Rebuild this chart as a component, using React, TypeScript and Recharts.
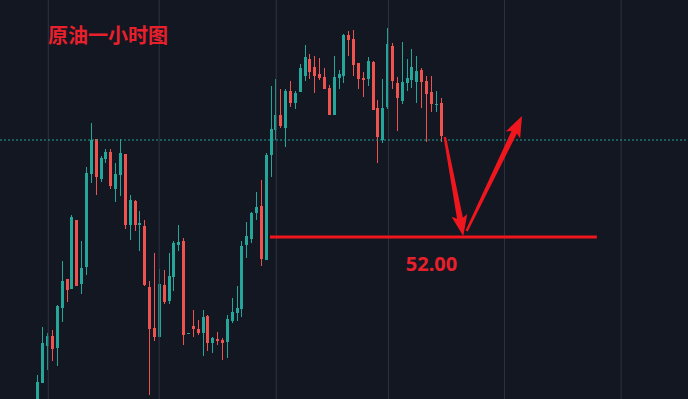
import React from 'react';
import { ComposedChart, Bar, XAxis, YAxis, ReferenceLine, ReferenceDot } from 'recharts';

const UP = '#26a69a';
const DOWN = '#ef5350';
const MARK = '#f0161e';

const opens = [50.30,50.54,50.91,51.01,50.89,51.29,51.58,51.48,52.17,51.53,51.70,52.63,52.98,52.58,52.78,52.85,52.48,52.62,52.83,52.12,52.36,52.12,52.11,51.50,51.09,51.00,51.52,51.36,51.60,51.92,51.96,51.03,51.11,51.08,51.04,51.21,50.94,50.98,50.97,50.95,51.16,51.24,51.28,51.92,51.98,52.24,52.31,51.77,52.82,53.07,53.22,53.09,53.46,53.34,53.45,53.61,53.78,53.70,53.63,53.60,53.49,53.22,53.59,53.61,54.02,53.98,53.74,53.59,53.58,53.75,53.29,52.97,53.30,53.91,53.54,53.36,53.54,53.57,53.55,53.67,53.56,53.45,53.32,53.34];
const highs = [50.62,51.10,51.04,51.07,51.32,51.76,51.58,52.22,52.17,51.96,52.70,53.14,52.98,52.81,52.88,52.88,52.74,52.98,52.83,52.42,52.37,52.26,52.17,51.56,51.84,51.68,51.67,51.84,51.96,52.12,51.99,51.04,51.27,51.17,51.27,51.22,51.00,51.05,50.99,51.22,51.39,51.51,51.96,52.15,52.25,52.45,52.57,52.84,53.51,53.58,53.48,53.48,53.56,53.46,53.73,53.92,53.83,53.81,53.79,53.69,53.52,53.81,53.67,54.03,54.06,54.07,53.74,53.65,53.80,53.76,53.37,53.58,54.09,53.94,53.60,53.95,53.78,53.88,53.81,53.69,53.61,53.61,53.46,53.39];
const lows = [50.25,50.54,50.67,50.76,50.71,51.15,51.35,51.48,51.51,51.43,51.62,52.54,52.42,52.55,52.74,52.48,52.35,52.41,52.08,51.97,52.06,51.86,51.51,50.42,50.96,51.00,51.33,51.33,51.46,51.86,50.92,51.03,51.00,51.02,50.81,50.86,50.84,50.92,50.77,50.79,51.14,51.16,51.20,51.79,51.94,52.17,51.71,51.77,52.60,52.97,53.09,52.90,53.30,53.28,53.45,53.56,53.58,53.44,53.57,53.48,53.22,53.22,53.48,53.54,53.81,53.61,53.48,53.40,53.51,53.27,52.74,52.94,53.28,53.48,53.06,53.33,53.46,53.49,53.34,53.29,52.95,53.25,53.25,52.95];
const closes = [50.55,50.94,51.01,50.88,51.31,51.56,51.47,52.20,51.51,51.69,52.64,52.97,52.60,52.79,52.85,52.51,52.63,52.84,52.12,52.37,52.12,52.14,51.52,51.08,51.00,51.53,51.35,51.61,51.94,51.95,51.02,51.04,51.08,51.04,51.20,50.94,50.99,50.96,50.94,51.18,51.25,51.29,51.91,52.01,52.24,52.30,51.78,52.82,53.08,53.22,53.11,53.46,53.34,53.44,53.69,53.80,53.65,53.61,53.59,53.48,53.22,53.60,53.63,54.02,53.97,53.72,53.58,53.57,53.76,53.27,53.00,53.29,53.93,53.56,53.39,53.55,53.59,53.70,53.66,53.55,53.43,53.33,53.33,53.01];

const gridX = [3.26, 26.1, 50.2, 73.3, 97.2, 121.2];
const lastPrice = 52.97;
const supportLevel = 52.0;
const supportLabel = '52.00';
const supportFrom = 48.9;
const supportTo = 116.2;
const arrowDown = [{ x: 84.9, y: 53.0 }, { x: 88.7, y: 52.01 }];
const arrowUp = [{ x: 89.4, y: 52.06 }, { x: 100.8, y: 53.21 }];
const labelPos = { x: 82.15, y: 51.735 };
const title = '原油一小时图';

const data = opens.map((o, i) => ({
  i: i + 1,
  open: o,
  high: highs[i],
  low: lows[i],
  close: closes[i],
}));

const Candle = (props: any) => {
  const { x, y, width, height, payload } = props;
  if (x == null || y == null) return null;
  const { open, close, high, low } = payload;
  const color = close >= open ? UP : DOWN;
  const top = Math.min(y, y + height);
  const h = Math.abs(height);
  const range = high - low;
  const ppu = range > 0 ? h / range : 0;
  const yOf = (v: number) => top + (high - v) * ppu;
  const bTop = yOf(Math.max(open, close));
  const bBot = yOf(Math.min(open, close));
  const c = Math.round(x + width / 2);
  return (
    <g>
      <line x1={c + 0.5} x2={c + 0.5} y1={top} y2={top + h} stroke={color} strokeWidth={1} />
      <rect x={c - 1} y={bTop} width={3} height={Math.max(1, bBot - bTop)} fill={color} />
    </g>
  );
};

const Arrow = (props: any) => {
  const { x1, y1, x2, y2 } = props;
  const dx = x2 - x1;
  const dy = y2 - y1;
  const len = Math.sqrt(dx * dx + dy * dy);
  const ux = dx / len;
  const uy = dy / len;
  const nx = -uy;
  const ny = ux;
  const headLen = 18;
  const bx = x2 - ux * headLen;
  const by = y2 - uy * headLen;
  const p = (px: number, py: number) => `${px},${py}`;
  const pts = [
    p(x1 + nx * 1.2, y1 + ny * 1.2),
    p(bx + nx * 3, by + ny * 3),
    p(bx + nx * 8 - ux * 3, by + ny * 8 - uy * 3),
    p(x2, y2),
    p(bx - nx * 8 - ux * 3, by - ny * 8 - uy * 3),
    p(bx - nx * 3, by - ny * 3),
    p(x1 - nx * 1.2, y1 - ny * 1.2),
  ].join(' ');
  return <polygon points={pts} fill={MARK} />;
};

const LabelShape = (props: any) => (
  <text
    x={props.cx}
    y={props.cy}
    textAnchor="middle"
    dominantBaseline="central"
    fill="#e8202c"
    fontSize={20}
    fontWeight={700}
    fontFamily="'Noto Sans', 'Open Sans', sans-serif"
  >
    {supportLabel}
  </text>
);

export default function App() {
  return (
    <div style={{ position: 'absolute', left: 0, top: 0, width: 688, height: 399, background: '#131722', overflow: 'hidden' }}>
      <ComposedChart width={688} height={399} data={data} margin={{ top: 0, right: 0, bottom: 0, left: 0 }}>
        <XAxis dataKey="i" type="number" domain={[-6.68, 134.97]} hide allowDataOverflow />
        <YAxis type="number" domain={[50.38, 54.37]} hide allowDataOverflow />
        {gridX.map((g) => (
          <ReferenceLine key={g} x={g} stroke="#2f3341" strokeWidth={1} />
        ))}
        <ReferenceLine y={lastPrice} stroke="#22a195" strokeDasharray="2 2" strokeWidth={1} />
        <Bar dataKey={(d: any) => [d.low, d.high]} barSize={3} shape={Candle} isAnimationActive={false} />
        <ReferenceLine
          segment={[{ x: supportFrom, y: supportLevel }, { x: supportTo, y: supportLevel }]}
          stroke={MARK}
          strokeWidth={3}
        />
        <ReferenceLine segment={arrowDown} shape={Arrow} />
        <ReferenceLine segment={arrowUp} shape={Arrow} />
        <ReferenceDot x={labelPos.x} y={labelPos.y} r={0} shape={LabelShape} />
      </ComposedChart>
      <div
        style={{
          position: 'absolute',
          left: 48,
          top: 25,
          fontSize: 20,
          lineHeight: '20px',
          fontWeight: 700,
          color: '#e8202c',
          fontFamily: "'Noto Sans CJK SC', sans-serif",
          whiteSpace: 'nowrap',
        }}
      >
        {title}
      </div>
    </div>
  );
}
